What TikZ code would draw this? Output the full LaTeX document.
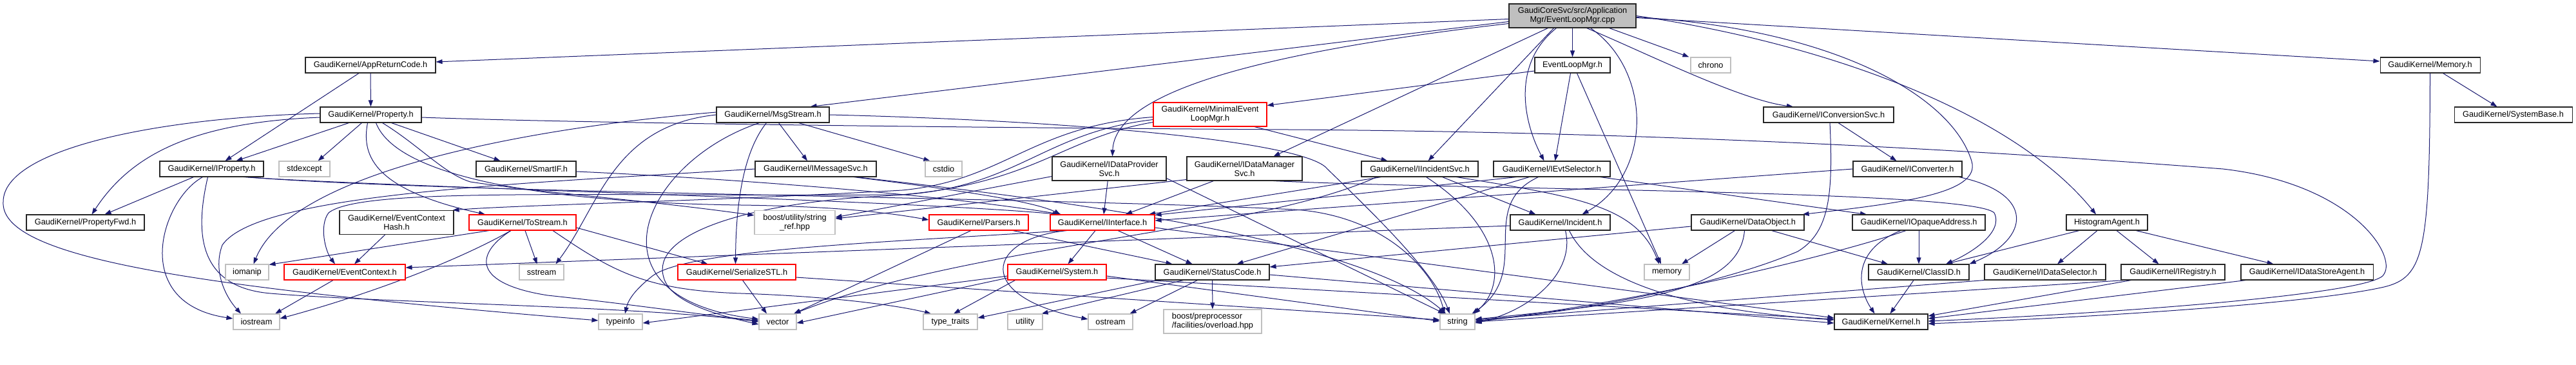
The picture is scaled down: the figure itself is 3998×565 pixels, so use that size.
\documentclass[tikz,border=0pt]{standalone}
\usepackage{fontspec}
\setmainfont{Liberation Sans}
\usetikzlibrary{arrows.meta,backgrounds}
\definecolor{edgecol}{HTML}{191970}
\definecolor{extgray}{HTML}{BFBFBF}
\definecolor{rootfill}{HTML}{BFBFBF}
\tikzset{
  nd/.style={draw=black!85, fill=white, line width=1.1pt, inner sep=0pt, align=center, text=black,
    font=\fontsize{12.75}{14}\selectfont, minimum height=24pt},
  ext/.style={nd, draw=extgray},
  trn/.style={nd, draw=red},
  rootnd/.style={nd, fill=rootfill},
  tall/.style={minimum height=37pt},
  edg/.style={draw=edgecol, line width=1pt, -{Triangle[length=10pt,width=7pt]}},
}
\begin{document}
\begin{tikzpicture}[x=1pt,y=-1pt]
\useasboundingbox (0,0) rectangle (3998,565);
% row 0
\node[rootnd,tall,minimum width=197pt] (root) at (2440.5,24.5) {GaudiCoreSvc/src/Application\\Mgr/EventLoopMgr.cpp};
% row 1
\node[nd,minimum width=202pt] (appret) at (575,101) {GaudiKernel/AppReturnCode.h};
\node[nd,minimum width=117pt] (elmh) at (2440.5,101) {EventLoopMgr.h};
\node[ext,minimum width=62pt] (chrono) at (2655,101) {chrono};
\node[nd,minimum width=155pt] (memoryh) at (3771.5,101) {GaudiKernel/Memory.h};
% row 2
\node[nd,minimum width=157pt] (property) at (575.5,178) {GaudiKernel/Property.h};
\node[nd,minimum width=175pt] (msgstream) at (1199.5,178) {GaudiKernel/MsgStream.h};
\node[trn,tall,minimum width=176pt] (minimal) at (1878,177.5) {GaudiKernel/MinimalEvent\\LoopMgr.h};
\node[nd,minimum width=202pt] (iconvsvc) at (2838,178) {GaudiKernel/IConversionSvc.h};
\node[nd,minimum width=183pt] (systembase) at (3900.5,178) {GaudiKernel/SystemBase.h};
% row 3
\node[nd,minimum width=161pt] (iproperty) at (328.5,262) {GaudiKernel/IProperty.h};
\node[ext,minimum width=79pt] (stdexcept) at (472.5,262) {stdexcept};
\node[nd,minimum width=155pt] (smartif) at (816.5,262) {GaudiKernel/SmartIF.h};
\node[nd,minimum width=188pt] (imsgsvc) at (1266,262) {GaudiKernel/IMessageSvc.h};
\node[ext,minimum width=57pt] (cstdio) at (1464.5,262) {cstdio};
\node[nd,tall,minimum width=177pt] (idps) at (1721.5,261.5) {GaudiKernel/IDataProvider\\Svc.h};
\node[nd,tall,minimum width=179pt] (idms) at (1931.5,261.5) {GaudiKernel/IDataManager\\Svc.h};
\node[nd,minimum width=181pt] (iincsvc) at (2203.5,262) {GaudiKernel/IIncidentSvc.h};
\node[nd,minimum width=181pt] (ievtsel) at (2408.5,262) {GaudiKernel/IEvtSelector.h};
\node[nd,minimum width=169pt] (iconv) at (2960.5,262) {GaudiKernel/IConverter.h};
% row 4
\node[nd,minimum width=183pt] (propfwd) at (132.5,345) {GaudiKernel/PropertyFwd.h};
\node[nd,tall,minimum width=177pt] (echash) at (615.5,345) {GaudiKernel/EventContext\\Hash.h};
\node[trn,minimum width=166pt] (tostream) at (811,345) {GaudiKernel/ToStream.h};
\node[ext,tall,minimum width=125pt] (strref) at (1233.5,345) {boost/utility/string\\\_ref.hpp};
\node[trn,minimum width=154pt] (parsers) at (1519,345) {GaudiKernel/Parsers.h};
\node[trn,minimum width=162pt] (iinterface) at (1711,345) {GaudiKernel/IInterface.h};
\node[nd,minimum width=155pt] (incident) at (2421.5,345) {GaudiKernel/Incident.h};
\node[nd,minimum width=175pt] (dataobject) at (2712.5,345) {GaudiKernel/DataObject.h};
\node[nd,minimum width=206pt] (iopaque) at (2978,345) {GaudiKernel/IOpaqueAddress.h};
\node[nd,minimum width=126pt] (histagent) at (3270,345) {HistogramAgent.h};
% row 5
\node[ext,minimum width=67pt] (iomanip) at (383.5,422) {iomanip};
\node[trn,minimum width=188pt] (evctx) at (535,422) {GaudiKernel/EventContext.h};
\node[ext,minimum width=69pt] (sstream) at (840.5,422) {sstream};
\node[trn,minimum width=183pt] (serial) at (1143.5,422) {GaudiKernel/SerializeSTL.h};
\node[trn,minimum width=153pt] (system) at (1640.5,422) {GaudiKernel/System.h};
\node[nd,minimum width=177pt] (statuscode) at (1881.5,422) {GaudiKernel/StatusCode.h};
\node[ext,minimum width=70pt] (memory) at (2587,422) {memory};
\node[nd,minimum width=156pt] (classid) at (2978,422) {GaudiKernel/ClassID.h};
\node[nd,minimum width=188pt] (idatasel) at (3174,422) {GaudiKernel/IDataSelector.h};
\node[nd,minimum width=161pt] (iregistry) at (3372.5,422) {GaudiKernel/IRegistry.h};
\node[nd,minimum width=205pt] (idsagent) at (3580.5,422) {GaudiKernel/IDataStoreAgent.h};
% row 6
\node[ext,minimum width=72pt] (iostream) at (398,499) {iostream};
\node[ext,minimum width=68pt] (typeinfo) at (963,499) {typeinfo};
\node[ext,minimum width=58pt] (vector) at (1207,499) {vector};
\node[ext,minimum width=84pt] (typetraits) at (1475,499) {type\_traits};
\node[ext,minimum width=54pt] (utility) at (1591,499) {utility};
\node[ext,minimum width=69pt] (ostream) at (1723.5,499) {ostream};
\node[ext,tall,minimum width=152pt,align=left] (boostpp) at (1882,498.5) {boost/preprocessor\\/facilities/overload.hpp};
\node[ext,minimum width=54pt] (string) at (2262,499) {string};
\node[nd,minimum width=145pt] (kernel) at (2919.5,499) {GaudiKernel/Kernel.h};

\begin{pgfonlayer}{background}
\fill[white] (0,0) rectangle (3998,565);
% root
\draw[edg] ([yshift=-5pt]root.west) -- ([yshift=5pt]appret.east);
\draw[edg] ([yshift=-9pt]root.west) -- ([xshift=-30pt]msgstream.north east);
\draw[edg] ([yshift=-12pt]root.west) .. controls (1920,85) and (1730,150) .. ([xshift=5pt]idps.north);
\draw[edg] ([xshift=-38pt]root.south) -- ([xshift=45pt]idms.north);
\draw[edg] ([xshift=-29pt]root.south) -- ([xshift=13pt]iincsvc.north);
\draw[edg] ([xshift=-25pt]root.south) .. controls (2345,100) and (2365,190) .. ([xshift=-12pt]ievtsel.north);
\draw[edg] (root) -- (elmh);
\draw[edg] ([xshift=-42pt]root.south east) -- ([xshift=-2pt]chrono.north west);
\draw[edg] ([xshift=22pt]root.south) .. controls (2550,80) and (2700,155) .. ([xshift=-55pt]iconvsvc.north);
\draw[edg] ([xshift=28pt]root.south) .. controls (2565,110) and (2565,270) .. ([xshift=34pt]incident.north);
\draw[edg] ([yshift=-2pt]root.east) .. controls (2850,45) and (3030,150) .. (3060,250) .. controls (3075,300) and (2950,315) .. ([xshift=-3pt]dataobject.north east);
\draw[edg] (root.east) .. controls (2850,70) and (3130,180) .. ([xshift=-17pt]histagent.north);
\draw[edg] ([yshift=-3pt]root.east) -- ([yshift=6pt]memoryh.west);
% EventLoopMgr.h
\draw[edg] ([yshift=-9pt]elmh.west) -- ([yshift=14pt]minimal.east);
\draw[edg] ([xshift=-3pt]elmh.south) -- ([xshift=5pt]ievtsel.north);
\draw[edg] ([xshift=7pt]elmh.south) -- ([xshift=-9pt]memory.north);
% AppReturnCode
\draw[edg] (appret) -- (property);
\draw[edg] ([xshift=-18pt]appret.south) -- ([xshift=21pt]iproperty.north);
% Property
\draw[edg] ([xshift=-34pt]property.south) -- ([xshift=38pt]iproperty.north);
\draw[edg] ([yshift=-4pt]property.west) .. controls (290,190) and (200,245) .. ([xshift=10pt]propfwd.north);
\draw[edg] ([xshift=-14pt]property.south) -- ([xshift=21pt]stdexcept.north);
\draw[edg] ([xshift=32pt]property.south) -- ([xshift=-40pt]smartif.north);
\draw[edg] ([xshift=-5pt]property.south) .. controls (560,245) and (585,295) .. ([xshift=-58pt]tostream.north);
\draw[edg] ([xshift=18pt]property.south) .. controls (650,225) and (690,270) .. (730,282) .. controls (850,300) and (1000,310) .. ([yshift=-8pt]strref.north west);
\draw[edg] ([xshift=8pt]property.south) .. controls (620,285) and (900,315) .. (1150,318) .. controls (1300,320) and (1380,330) .. ([yshift=4pt]parsers.west);
\draw[edg] ([yshift=2pt]property.west) .. controls (250,182) and (5,230) .. (5,313) .. controls (0,400) and (300,445) .. ([yshift=2pt]typeinfo.west);
\draw[edg] ([yshift=-4pt]property.east) .. controls (900,191) and (1500,198) .. (2000,201) .. controls (2600,205) and (3100,235) .. (3450,262) .. controls (3650,285) and (3720,395) .. (3700,425) .. controls (3690,455) and (3300,485) .. ([yshift=1pt]kernel.east);
% IProperty
\draw[edg] ([xshift=-28pt]iproperty.south) -- ([xshift=30pt]propfwd.north);
\draw[edg] ([xshift=-14pt]iproperty.south) .. controls (250,310) and (200,470) .. ([yshift=5pt]iostream.west);
\draw[edg] ([xshift=-6pt]iproperty.south) .. controls (305,350) and (300,445) .. (420,455) .. controls (600,470) and (1000,475) .. (vector.west);
\draw[edg] ([xshift=50pt]iproperty.south) .. controls (600,290) and (1400,310) .. ([xshift=-67pt]iinterface.north);
\draw[edg] ([xshift=54pt]iproperty.south) .. controls (700,300) and (1600,305) .. (2010,325) .. controls (2150,335) and (2225,420) .. ([xshift=-20pt]string.north);
% SmartIF
\draw[edg] ([yshift=-4pt]smartif.east) .. controls (1100,275) and (1450,300) .. ([xshift=-64pt]iinterface.north);
% MsgStream
\draw[edg] ([xshift=9pt]msgstream.south) -- ([xshift=-13pt]imsgsvc.north);
\draw[edg] ([xshift=40pt]msgstream.south) -- ([xshift=-21pt]cstdio.north);
\draw[edg] ([xshift=-10pt]msgstream.south) .. controls (1150,240) and (1142,330) .. ([xshift=-2pt]serial.north);
\draw[edg] ([xshift=-21pt]msgstream.south) .. controls (1000,250) and (900,460) .. ([yshift=4pt]vector.west);
\draw[edg] (msgstream.west) .. controls (950,195) and (930,320) .. ([xshift=22pt]sstream.north);
\draw[edg] ([yshift=4pt]msgstream.west) .. controls (800,200) and (450,270) .. ([xshift=10pt]iomanip.north);
\draw[edg] (msgstream.east) .. controls (1700,188) and (2030,222) .. (2060,262) .. controls (2120,320) and (2225,420) .. ([xshift=-12pt]string.north);
% IMessageSvc
\draw[edg] ([xshift=59pt]imsgsvc.south) .. controls (1450,290) and (1600,310) .. ([xshift=-65pt]iinterface.north);
\draw[edg] ([xshift=63pt]imsgsvc.south) .. controls (1550,300) and (2100,360) .. ([xshift=-18pt]string.north);
\draw[edg] (imsgsvc.west) .. controls (800,285) and (400,300) .. (345,380) .. controls (330,420) and (350,460) .. ([xshift=-24pt]iostream.north);
% IDataProviderSvc
\draw[edg] (idps) -- ([xshift=2pt]iinterface.north);
\draw[edg] ([yshift=-12pt]idps.west) -- ([yshift=8pt]strref.east);
\draw[edg] ([yshift=-15pt]idps.east) -- ([xshift=-20pt]string.north);
% IDataManagerSvc
\draw[edg] ([xshift=-48pt]idms.south) -- ([xshift=36pt]iinterface.north);
\draw[edg] ([yshift=-17pt]idms.west) -- ([yshift=6pt]strref.east);
\draw[edg] ([xshift=45pt]idms.south) .. controls (2300,295) and (3060,295) .. (3095,330) .. controls (3110,360) and (3060,392) .. ([xshift=42pt]classid.north);
% MinimalEventLoopMgr
\draw[edg] ([yshift=-4pt]minimal.west) .. controls (1600,195) and (1560,280) .. (1400,295) .. controls (1100,312) and (800,318) .. ([xshift=-2pt]echash.north east);
\draw[edg] ([yshift=-8pt]minimal.west) .. controls (1620,205) and (1580,290) .. (1400,302) .. controls (900,305) and (560,290) .. (510,330) .. controls (495,350) and (505,390) .. ([xshift=-15pt]evctx.north);
\draw[edg] ([yshift=-12pt]minimal.west) .. controls (1640,215) and (1600,295) .. (1350,305) .. controls (1150,318) and (1010,365) .. (1030,430) .. controls (1040,470) and (1120,490) .. ([yshift=-4pt]vector.west);
\draw[edg] ([xshift=69pt]minimal.south) -- ([xshift=-50pt]iincsvc.north);
% IIncidentSvc
\draw[edg] ([xshift=-60pt]iincsvc.south) -- ([xshift=72pt]iinterface.north);
\draw[edg] ([xshift=-67pt]iincsvc.south) .. controls (1950,360) and (1500,380) .. ([xshift=-4pt]vector.north east);
\draw[edg] ([xshift=35pt]iincsvc.south) -- ([xshift=-38pt]incident.north);
\draw[edg] ([xshift=10pt]iincsvc.south) .. controls (2330,350) and (2340,440) .. ([xshift=-2pt]string.north east);
\draw[edg] ([xshift=57pt]iincsvc.south) .. controls (2450,305) and (2540,320) .. ([xshift=-12pt]memory.north);
% IEvtSelector
\draw[edg] ([xshift=-55pt]ievtsel.south) -- ([yshift=-1pt]iinterface.north east);
\draw[edg] ([xshift=-35pt]ievtsel.south) -- ([xshift=38pt]statuscode.north);
\draw[edg] ([xshift=-21pt]ievtsel.south) .. controls (2290,320) and (2380,420) .. ([xshift=-5pt]string.north east);
\draw[edg] ([xshift=75pt]ievtsel.south) -- ([xshift=-81pt]iopaque.north);
% IConversionSvc
\draw[edg] ([xshift=15pt]iconvsvc.south) -- ([xshift=-17pt]iconv.north);
\draw[edg] ([xshift=2pt]iconvsvc.south) .. controls (2845,300) and (2840,360) .. (2790,390) .. controls (2650,450) and (2400,490) .. ([yshift=2pt]string.east);
% IConverter
\draw[edg] (iconv.west) -- ([yshift=3pt]iinterface.east);
\draw[edg] ([xshift=-5pt]iconv.south east) .. controls (3160,300) and (3150,370) .. (classid.north east);
% Incident
\draw[edg] ([yshift=-5pt]incident.west) -- ([yshift=7pt]evctx.east);
\draw[edg] ([xshift=8pt]incident.south) .. controls (2445,420) and (2380,480) .. ([yshift=-2pt]string.east);
\draw[edg] ([xshift=14pt]incident.south) .. controls (2470,430) and (2600,480) .. ([yshift=3pt]kernel.west);
% DataObject
\draw[edg] ([xshift=-20pt]dataobject.south) -- ([xshift=23pt]memory.north);
\draw[edg] ([xshift=37pt]dataobject.south) -- ([xshift=-48pt]classid.north);
\draw[edg] ([yshift=-6pt]dataobject.west) -- ([yshift=8pt]statuscode.east);
\draw[edg] ([xshift=-5pt]dataobject.south) .. controls (2700,450) and (2550,470) .. ([yshift=4pt]string.east);
% IOpaqueAddress
\draw[edg] (iopaque) -- (classid);
\draw[edg] ([xshift=-28pt]iopaque.south) .. controls (2870,390) and (2885,450) .. ([xshift=-10pt]kernel.north);
\draw[edg] ([xshift=-20pt]iopaque.south) .. controls (2880,385) and (2600,460) .. (string.east);
% HistogramAgent
\draw[edg] ([xshift=-43pt]histagent.south) -- ([xshift=42pt]classid.north);
\draw[edg] ([xshift=-15pt]histagent.south) -- ([xshift=19pt]idatasel.north);
\draw[edg] ([xshift=15pt]histagent.south) -- ([xshift=-22pt]iregistry.north);
\draw[edg] ([xshift=45pt]histagent.south) -- ([xshift=-52pt]idsagent.north);
% ClassID, IDataSelector, IRegistry, IDataStoreAgent
\draw[edg] ([xshift=-8pt]classid.south) -- ([xshift=14pt]kernel.north);
\draw[edg] (idatasel.south west) -- ([yshift=3pt]string.east);
\draw[edg] ([xshift=-75pt]iregistry.south) -- (string.east);
\draw[edg] ([xshift=-65pt]iregistry.south) -- ([yshift=9pt]kernel.east);
\draw[edg] ([xshift=-95pt]idsagent.south) -- ([yshift=5pt]kernel.east);
% Memory.h
\draw[edg] ([xshift=20pt]memoryh.south) -- ([xshift=-25pt]systembase.north);
\draw[edg] (memoryh.south) .. controls (3771,390) and (3762,430) .. (3700,445) .. controls (3600,468) and (3300,490) .. ([yshift=-3pt]kernel.east);
% ToStream
\draw[edg] ([xshift=-52pt]tostream.south) -- ([yshift=-1pt]iomanip.north east);
\draw[edg] ([xshift=-18pt]tostream.south) .. controls (700,410) and (560,460) .. ([yshift=5pt]iostream.east);
\draw[edg] ([xshift=4pt]tostream.south) -- ([xshift=-7pt]sstream.north);
\draw[edg] ([yshift=-8pt]tostream.east) -- ([xshift=-45pt]serial.north);
\draw[edg] ([xshift=-18pt]tostream.south) .. controls (735,395) and (735,440) .. (850,458) .. controls (1000,474) and (1100,490) .. ([yshift=2pt]vector.west);
\draw[edg] ([xshift=47pt]tostream.south) .. controls (950,420) and (1000,450) .. (1150,455) .. controls (1300,460) and (1400,475) .. ([xshift=-30pt]typetraits.north);
% EventContextHash, EventContext
\draw[edg] ([xshift=-18pt]echash.south) -- ([xshift=15pt]evctx.north);
\draw[edg] ([xshift=-18pt]evctx.south) -- ([xshift=29pt]iostream.north);
% SerializeSTL
\draw[edg] ([xshift=9pt]serial.south) -- ([xshift=-17pt]vector.north);
\draw[edg] ([yshift=-8pt]serial.east) -- ([yshift=3pt]string.west);
% Parsers
\draw[edg] ([xshift=-12pt]parsers.south) -- ([xshift=25pt]vector.north);
\draw[edg] ([xshift=53pt]parsers.south) -- ([xshift=-62pt]statuscode.north);
% IInterface
\draw[edg] ([xshift=-11pt]iinterface.south) -- ([xshift=17pt]system.north);
\draw[edg] ([xshift=24pt]iinterface.south) -- ([xshift=-31pt]statuscode.north);
\draw[edg] ([xshift=-55pt]iinterface.south) .. controls (1530,370) and (1510,460) .. ([yshift=4pt]ostream.west);
\draw[edg] ([xshift=-60pt]iinterface.south) .. controls (1400,375) and (1060,385) .. (1010,430) .. controls (985,450) and (975,465) .. ([xshift=7pt]typeinfo.north);
\draw[edg] ([yshift=-8pt]iinterface.east) -- ([yshift=6pt]kernel.west);
% System
\draw[edg] ([xshift=-65pt]system.south) -- ([xshift=5pt]typetraits.north);
\draw[edg] ([yshift=-6pt]system.west) -- ([yshift=-2pt]typeinfo.east);
\draw[edg] ([yshift=-9pt]system.west) -- ([yshift=-2pt]vector.east);
\draw[edg] ([yshift=-6pt]system.east) -- ([yshift=1pt]string.west);
\draw[edg] ([yshift=-9pt]system.east) -- ([yshift=4pt]kernel.west);
% StatusCode
\draw[edg] (statuscode) -- (boostpp);
\draw[edg] ([xshift=-23pt]statuscode.south) -- ([xshift=30pt]ostream.north);
\draw[edg] ([xshift=-45pt]statuscode.south) -- ([xshift=-2pt]utility.north east);
\draw[edg] ([xshift=-85pt]statuscode.south) -- ([yshift=6pt]typetraits.east);
\draw[edg] ([yshift=-4pt]statuscode.east) -- ([yshift=-2pt]kernel.west);
\end{pgfonlayer}
\end{tikzpicture}
\end{document}
